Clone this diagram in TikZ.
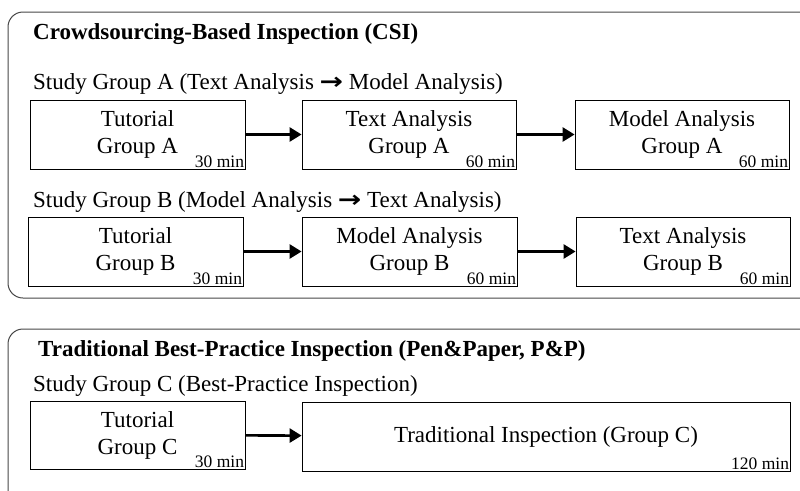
\documentclass[tikz,border=0pt]{standalone}
\usepackage{fontspec}
\setmainfont{Liberation Serif}
\newfontfamily\arrowfont{DejaVu Sans}
\usetikzlibrary{arrows.meta}
\newcommand{\thickarrow}{{\arrowfont\bfseries\fontsize{20}{22}\selectfont\scalebox{1.4}[1.15]{→}}}
\begin{document}
\begin{tikzpicture}[x=1pt,y=-1pt,
  outerbox/.style={draw=black!72,line width=1pt,rounded corners=15pt},
  stepbox/.style={draw=black,line width=0.8pt,align=center,inner sep=0pt,
    font=\fontsize{23}{27}\selectfont},
  mins/.style={anchor=south east,inner sep=1.2pt,font=\fontsize{17.5}{18}\selectfont},
  lbl/.style={anchor=base west,inner sep=0pt,font=\fontsize{23}{27}\selectfont},
  ttl/.style={anchor=base west,inner sep=0pt,font=\fontsize{23}{27}\selectfont\bfseries},
  flow/.style={line width=2.6pt,-{Triangle[length=12pt,width=14pt]}}]
\clip (0,0) rectangle (800,490);
\fill[white] (0,0) rectangle (800,490);
% outer frames
\draw[outerbox] (8,12) rectangle (815,298);
\draw[outerbox] (8,329) rectangle (815,530);
% titles
\node[ttl] (t1) at (33,39) {Crowdsourcing-Based Inspection (CSI)};
\node[ttl] (t2) at (38,356) {Traditional Best-Practice Inspection (Pen\&Paper, P\&P)};
\node[lbl] (sa) at (33,89) {Study Group A (Text Analysis \thickarrow{} Model Analysis)};
\node[lbl] (sb) at (33,207) {Study Group B (Model Analysis \thickarrow{} Text Analysis)};
\node[lbl] (sc) at (33,391) {Study Group C (Best-Practice Inspection)};
% row A
\node[stepbox,minimum width=215pt,minimum height=69pt] (a1) at (137.5,134.5) {Tutorial\\Group A};
\node[stepbox,minimum width=214pt,minimum height=69pt] (a2) at (409,134.5) {Text Analysis\\Group A};
\node[stepbox,minimum width=214pt,minimum height=69pt] (a3) at (682,134.5) {Model Analysis\\Group A};
\node[mins] at (a1.south east) {30 min};
\node[mins] at (a2.south east) {60 min};
\node[mins] at (a3.south east) {60 min};
\draw[flow] (a1) -- (a2);
\draw[flow] (a2) -- (a3);
% row B
\node[stepbox,minimum width=215pt,minimum height=69pt] (b1) at (135.5,251.5) {Tutorial\\Group B};
\node[stepbox,minimum width=215pt,minimum height=69pt] (b2) at (409.5,251.5) {Model Analysis\\Group B};
\node[stepbox,minimum width=214pt,minimum height=69pt] (b3) at (683,251.5) {Text Analysis\\Group B};
\node[mins] at (b1.south east) {30 min};
\node[mins] at (b2.south east) {60 min};
\node[mins] at (b3.south east) {60 min};
\draw[flow] (b1) -- (b2);
\draw[flow] (b2) -- (b3);
% row C
\node[stepbox,minimum width=215pt,minimum height=68pt] (c1) at (137.5,435) {Tutorial\\Group C};
\node[stepbox,minimum width=488pt,minimum height=69pt] (c2) at (546,436.5) {Traditional Inspection (Group C)};
\node[mins] at (c1.south east) {30 min};
\node[mins] at (c2.south east) {120 min};
\draw[flow] (c1) -- (c2);
\end{tikzpicture}
\end{document}
